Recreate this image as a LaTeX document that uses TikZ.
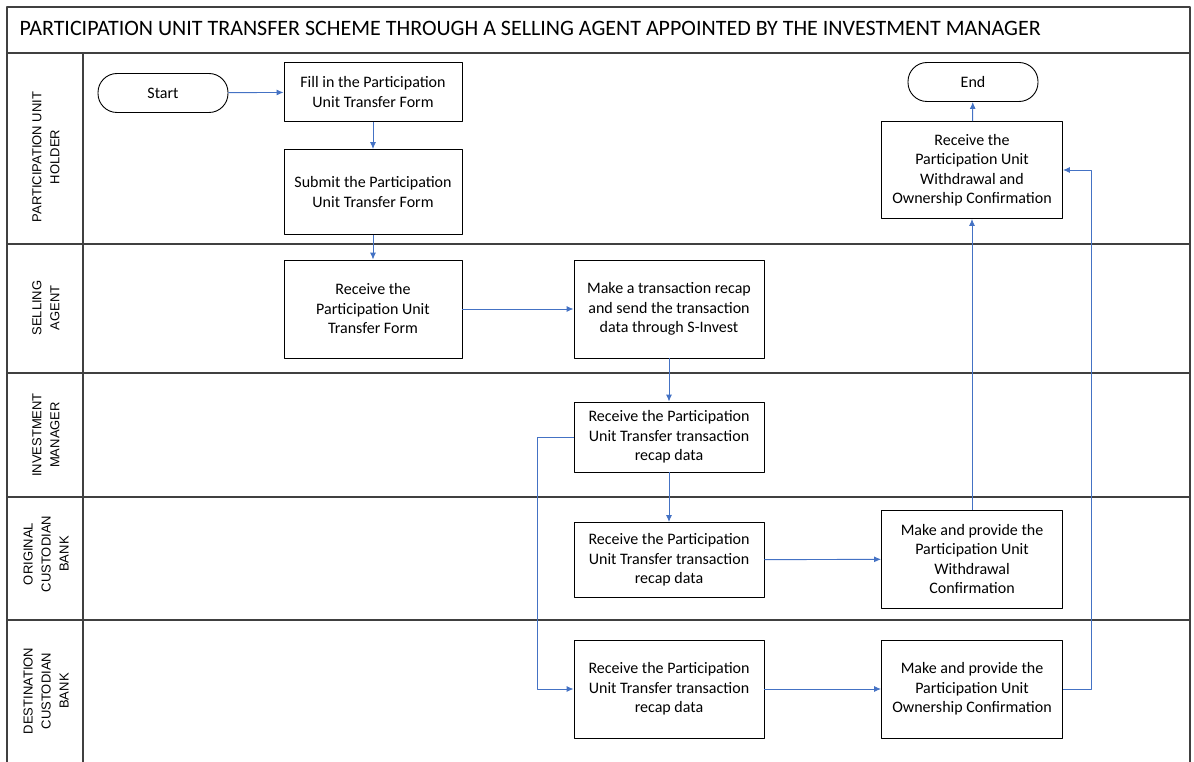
\documentclass[tikz,border=0pt]{standalone}
\usepackage{fontspec}
\setmainfont{Carlito}
\newfontfamily\lanefont{Liberation Sans}
\usetikzlibrary{arrows.meta}
\definecolor{arrowblue}{HTML}{4472C4}
\begin{document}
\begin{tikzpicture}[x=1pt,y=-1pt,>={Latex[length=7pt,width=6pt]},line join=round,
	font=\fontsize{16}{19.5}\selectfont,
	lane/.style={draw=black!75,line width=1.6pt},
	task/.style={draw,line width=0.9pt,align=center,minimum width=178pt,inner sep=2pt},
	term/.style={draw,line width=0.9pt,rounded corners=19pt,minimum width=130pt,minimum height=39pt},
	flow/.style={->,draw=arrowblue,line width=0.9pt},
	lanelabel/.style={rotate=90,align=center,font=\lanefont\fontsize{13}{18}\selectfont}]
	\useasboundingbox (0,0) rectangle (1194,762);
	% frame and lanes
	\draw[lane] (7,762)--(7,7)--(1190,7)--(1190,762);
	\foreach \y in {53,244,373,497,620}
		\draw[lane] (7,\y)--(1190,\y);
	\draw[lane] (83,53)--(83,762);
	\node[anchor=west,font=\fontsize{22}{26}\selectfont] (title) at (16,28) {PARTICIPATION UNIT TRANSFER SCHEME THROUGH A SELLING AGENT APPOINTED BY THE INVESTMENT MANAGER};
	\node[lanelabel] (holder) at (46,157) {PARTICIPATION UNIT\\HOLDER};
	\node[lanelabel] (agent) at (46,308) {SELLING\\AGENT};
	\node[lanelabel] (manager) at (46,435) {INVESTMENT\\MANAGER};
	\node[lanelabel] (origbank) at (46,554) {ORIGINAL\\CUSTODIAN\\BANK};
	\node[lanelabel] (destbank) at (46,691) {DESTINATION\\CUSTODIAN\\BANK};
	% participation unit holder
	\node[term] (start) at (163,93) {Start};
	\node[task,minimum height=59pt] (fill) at (373,92) {Fill in the Participation\\Unit Transfer Form};
	\node[task,minimum height=85pt] (submit) at (373,192) {Submit the Participation\\Unit Transfer Form};
	\node[term] (end) at (973,82) {End};
	\node[task,minimum width=181pt,minimum height=97pt] (recvconf) at (972,170) {Receive the\\Participation Unit\\Withdrawal and\\Ownership Confirmation};
	% selling agent
	\node[task,minimum height=98pt] (recvform) at (373,309) {Receive the\\Participation Unit\\Transfer Form};
	\node[task,minimum width=190pt,minimum height=98pt] (recap) at (669,309) {Make a transaction recap\\and send the transaction\\data through S-Invest};
	% investment manager
	\node[task,minimum width=190pt,minimum height=70pt] (imrecv) at (669,437) {Receive the Participation\\Unit Transfer transaction\\recap data};
	% original custodian bank
	\node[task,minimum width=190pt,minimum height=75pt] (ocbrecv) at (669,560) {Receive the Participation\\Unit Transfer transaction\\recap data};
	\node[task,minimum width=181pt,minimum height=98pt] (withdraw) at (972,559) {Make and provide the\\Participation Unit\\Withdrawal\\Confirmation};
	% destination custodian bank
	\node[task,minimum width=190pt,minimum height=98pt] (dcbrecv) at (669,689) {Receive the Participation\\Unit Transfer transaction\\recap data};
	\node[task,minimum width=181pt,minimum height=98pt] (ownership) at (972,689) {Make and provide the\\Participation Unit\\Ownership Confirmation};
	% flows
	\draw[flow] (start)--(fill);
	\draw[flow] (fill)--(submit);
	\draw[flow] (submit)--(recvform);
	\draw[flow] (recvform)--(recap);
	\draw[flow] (recap)--(imrecv);
	\draw[flow] (imrecv)--(ocbrecv);
	\draw[flow] (imrecv.west)--++(-36,0)|-(dcbrecv.west);
	\draw[flow] (ocbrecv)--(withdraw);
	\draw[flow] (dcbrecv)--(ownership);
	\draw[flow] (withdraw)--(recvconf);
	\draw[flow] (ownership.east)--++(28,0)|-(recvconf.east);
	\draw[flow] (recvconf)--(end);
\end{tikzpicture}
\end{document}
